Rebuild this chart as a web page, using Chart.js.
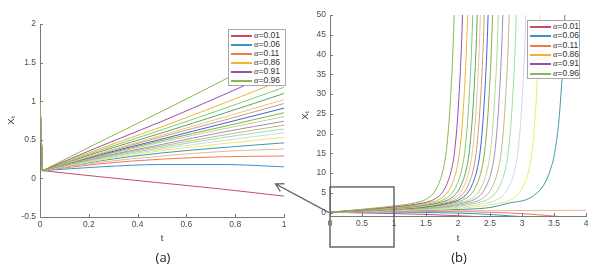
<!DOCTYPE html>
<html>
<head>
<meta charset="utf-8">
<script src="https://cdn.jsdelivr.net/npm/chart.js@4.4.1/dist/chart.umd.min.js"></script>
<style>
  body { margin: 0; background: #fff; width: 609px; height: 274px; overflow: hidden; position: relative; font-family: "Liberation Sans", Arial, sans-serif; }
  canvas { position: absolute; top: 0; }
  #chartA { left: 0; }
  #chartB { left: 300px; }
  #overlay { left: 0; pointer-events: none; }
  .panel { position: absolute; top: 248px; font-size: 13px; color: #222; font-family: "Open Sans", "Liberation Sans", sans-serif; transform: translateX(-50%); }
  .legend { position: absolute; background: #fff; border: 1px solid #a8a8a8; box-sizing: border-box; }
  .row { position: absolute; left: 2px; height: 9px; line-height: 9px; font-size: 8.5px; color: #333; white-space: nowrap; }
  .row .ln { display: inline-block; width: 21px; height: 1px; border-top: 0.5px solid transparent; vertical-align: middle; margin-right: 2px; }
  .row i { font-family: "Liberation Serif", "DejaVu Serif", serif; }
</style>
</head>
<body>
<canvas id="chartA" width="300" height="274"></canvas>
<canvas id="chartB" width="309" height="274"></canvas>
<canvas id="overlay" width="609" height="274"></canvas>
<div class="panel" style="left:163px">(a)</div>
<div class="panel" style="left:459px">(b)</div>

<script>
// fractional orders, one curve each
const alphas = [0.01, 0.06, 0.11, 0.16, 0.21, 0.26, 0.31, 0.36, 0.41, 0.46,
                0.51, 0.56, 0.61, 0.66, 0.71, 0.76, 0.81, 0.86, 0.91, 0.96];
const colors = ["#c94a6a", "#3d8fd6", "#ee7a52", "#e6b89a", "#3f9aa6", "#eeea6a", "#cfd8e6", "#98e0a0", "#c0b888", "#a888c0",
                "#b0dc8a", "#98a840", "#3a62dc", "#c8a070", "#f0c090", "#58a858", "#80c878", "#f2b430", "#9a4cb0", "#88b850"];
const legendIdx = [0, 1, 2, 17, 18, 19];

// panel (a): initial jump X_0 = 1 -> 0.1, then t in [0.01, 1]
const spikeT = [0, 0.01];
const spikeX = [1, 0.1];
const tA = [0.01, 0.25, 0.5, 0.75, 1];
const xA = [
  [0.1, 0.02, -0.06, -0.14, -0.23],
  [0.1, 0.15, 0.18, 0.18, 0.15],
  [0.1, 0.19, 0.25, 0.28, 0.29],
  [0.1, 0.21, 0.29, 0.35, 0.38],
  [0.1, 0.23, 0.33, 0.40, 0.46],
  [0.1, 0.24, 0.36, 0.45, 0.53],
  [0.1, 0.25, 0.38, 0.49, 0.59],
  [0.1, 0.26, 0.40, 0.53, 0.64],
  [0.1, 0.27, 0.42, 0.56, 0.69],
  [0.1, 0.28, 0.44, 0.60, 0.74],
  [0.1, 0.29, 0.47, 0.64, 0.80],
  [0.1, 0.30, 0.49, 0.67, 0.85],
  [0.1, 0.31, 0.51, 0.71, 0.91],
  [0.1, 0.32, 0.54, 0.75, 0.97],
  [0.1, 0.33, 0.56, 0.79, 1.02],
  [0.1, 0.35, 0.59, 0.84, 1.10],
  [0.1, 0.37, 0.63, 0.90, 1.18],
  [0.1, 0.39, 0.67, 0.97, 1.28],
  [0.1, 0.42, 0.74, 1.08, 1.43],
  [0.1, 0.48, 0.87, 1.27, 1.69],
];

// panel (b): [t, X_t] pairs, t in [0, 4]
const ptsB = [
  [[0, 0.1], [1, -0.23], [1.5, -0.45], [2, -0.78], [2.3, -1.0]],
  [[0, 0.1], [0.5, 0.18], [1, 0.15], [1.5, 0.05], [2, -0.12], [2.5, -0.45], [2.85, -0.85], [3, -1.0]],
  [[0, 0.1], [1, 0.29], [1.5, 0.3], [2, 0.25], [2.5, 0.1], [3, -0.25], [3.45, -0.8], [3.6, -1.0]],
  [[0, 0.1], [1, 0.38], [2, 0.48], [3, 0.53], [4, 0.6]],
  [[0, 0.1], [1, 0.46], [2, 0.8], [2.5, 1.3], [2.82, 2.5], [3.07, 3.3], [3.22, 4.8], [3.34, 7], [3.44, 10.7], [3.52, 16], [3.6, 28], [3.67, 50], [3.71, 80]],
  [[0, 0.1], [1, 0.53], [1.8, 0.9], [2.3, 1.5], [2.68, 2.5], [2.83, 3.3], [2.95, 4.8], [3.03, 7], [3.11, 11], [3.16, 16], [3.22, 28], [3.28, 50], [3.32, 80]],
  [[0, 0.1], [1, 0.59], [1.7, 0.95], [2.1, 1.5], [2.46, 2.5], [2.61, 3.3], [2.73, 4.8], [2.81, 7], [2.89, 11], [2.94, 16], [3.0, 28], [3.06, 50], [3.1, 80]],
  [[0, 0.1], [1, 0.64], [1.6, 1.0], [2.0, 1.6], [2.31, 2.5], [2.46, 3.3], [2.58, 4.8], [2.66, 7], [2.74, 11], [2.79, 16], [2.85, 28], [2.91, 50], [2.95, 80]],
  [[0, 0.1], [1, 0.69], [1.6, 1.1], [1.95, 1.7], [2.2, 2.5], [2.35, 3.3], [2.47, 4.8], [2.55, 7], [2.63, 11], [2.68, 16], [2.74, 28], [2.80, 50], [2.84, 80]],
  [[0, 0.1], [1, 0.74], [1.55, 1.2], [1.85, 1.7], [2.1, 2.5], [2.25, 3.3], [2.37, 4.8], [2.45, 7], [2.53, 11], [2.58, 16], [2.64, 28], [2.70, 50], [2.74, 80]],
  [[0, 0.1], [1, 0.80], [1.5, 1.25], [1.8, 1.75], [2.03, 2.5], [2.18, 3.3], [2.3, 4.8], [2.38, 7], [2.46, 11], [2.51, 16], [2.57, 28], [2.63, 50], [2.67, 80]],
  [[0, 0.1], [1, 0.85], [1.5, 1.35], [1.94, 2.5], [2.09, 3.3], [2.21, 4.8], [2.29, 7], [2.37, 11], [2.42, 16], [2.48, 28], [2.54, 50], [2.58, 80]],
  [[0, 0.1], [1, 0.91], [1.45, 1.4], [1.87, 2.5], [2.02, 3.3], [2.14, 4.8], [2.22, 7], [2.30, 11], [2.35, 16], [2.41, 28], [2.47, 50], [2.51, 80]],
  [[0, 0.1], [1, 0.97], [1.4, 1.45], [1.81, 2.5], [1.96, 3.3], [2.08, 4.8], [2.16, 7], [2.24, 11], [2.29, 16], [2.35, 28], [2.41, 50], [2.45, 80]],
  [[0, 0.1], [1, 1.02], [1.4, 1.5], [1.75, 2.5], [1.90, 3.3], [2.02, 4.8], [2.10, 7], [2.18, 11], [2.23, 16], [2.29, 28], [2.35, 50], [2.39, 80]],
  [[0, 0.1], [1, 1.10], [1.35, 1.6], [1.70, 2.5], [1.85, 3.3], [1.97, 4.8], [2.05, 7], [2.13, 11], [2.18, 16], [2.24, 28], [2.30, 50], [2.34, 80]],
  [[0, 0.1], [1, 1.18], [1.3, 1.65], [1.63, 2.5], [1.78, 3.3], [1.90, 4.8], [1.98, 7], [2.06, 11], [2.11, 16], [2.17, 28], [2.23, 50], [2.27, 80]],
  [[0, 0.1], [1, 1.28], [1.25, 1.7], [1.55, 2.5], [1.70, 3.3], [1.82, 4.8], [1.90, 7], [1.98, 11], [2.03, 16], [2.09, 28], [2.15, 50], [2.19, 80]],
  [[0, 0.1], [1, 1.43], [1.2, 1.8], [1.47, 2.5], [1.62, 3.3], [1.74, 4.8], [1.82, 7], [1.90, 11], [1.95, 16], [2.01, 28], [2.07, 50], [2.11, 80]],
  [[0, 0.1], [1, 1.69], [1.34, 2.5], [1.49, 3.3], [1.61, 4.8], [1.69, 7], [1.77, 11], [1.82, 16], [1.88, 28], [1.94, 50], [1.98, 80]],
];

const xTicksA = [0, 0.2, 0.4, 0.6, 0.8, 1];
const yTicksA = [-0.5, 0, 0.5, 1, 1.5, 2];
const xTicksB = [0, 0.5, 1, 1.5, 2, 2.5, 3, 3.5, 4];
const yTicksB = [0, 5, 10, 15, 20, 25, 30, 35, 40, 45, 50];

const axisColor = "#7a7a7a";
const tickColor = "#4d4d4d";

// MATLAB-style inward tick marks
const inwardTicks = {
  id: "inwardTicks",
  afterDraw(chart) {
    const { ctx, scales: { x, y } } = chart;
    ctx.save();
    ctx.strokeStyle = axisColor;
    ctx.lineWidth = 1;
    ctx.beginPath();
    x.ticks.forEach(t => {
      const px = Math.round(x.getPixelForValue(t.value)) + 0.5;
      ctx.moveTo(px, y.bottom);
      ctx.lineTo(px, y.bottom - 3);
    });
    y.ticks.forEach(t => {
      const py = Math.round(y.getPixelForValue(t.value)) + 0.5;
      ctx.moveTo(x.left, py);
      ctx.lineTo(x.left + 3, py);
    });
    ctx.stroke();
    ctx.restore();
  },
};

function makeChart(canvas, datasets, o) {
  return new Chart(canvas.getContext("2d"), {
    type: "line",
    data: { datasets },
    options: {
      responsive: false,
      animation: false,
      events: [],
      layout: { padding: o.padding },
      elements: { point: { radius: 0 }, line: { borderWidth: 1, cubicInterpolationMode: "monotone" } },
      plugins: { legend: { display: false }, tooltip: { enabled: false } },
      scales: {
        x: {
          type: "linear",
          min: o.xMin, max: o.xMax,
          afterBuildTicks: s => { s.ticks = o.xTicks.map(v => ({ value: v })); },
          afterFit: s => { s.height = o.xHeight; },
          grid: { display: false, drawTicks: false },
          border: { display: true, color: axisColor, width: 1 },
          ticks: { color: tickColor, padding: 3, maxRotation: 0, font: { size: 8.5, family: "Liberation Sans" }, callback: v => String(v) },
          title: { display: true, text: "t", color: "#333", font: { size: 9.5, family: "Liberation Sans" }, padding: { top: 0, bottom: o.xTitlePad } },
        },
        y: {
          type: "linear",
          min: o.yMin, max: o.yMax,
          afterBuildTicks: s => { s.ticks = o.yTicks.map(v => ({ value: v })); },
          afterFit: s => { s.width = o.yWidth; },
          grid: { display: false, drawTicks: false },
          border: { display: true, color: axisColor, width: 1 },
          ticks: { color: tickColor, padding: 4, font: { size: 8.5, family: "Liberation Sans" }, callback: v => String(v) },
          title: { display: true, text: "X\u209C", color: "#333", font: { size: 9.5, family: "Liberation Sans" }, padding: { top: o.yTitlePad, bottom: 0 } },
        },
      },
    },
    plugins: [inwardTicks],
  });
}

const dsA = [];
alphas.forEach((a, i) => {
  dsA.push({
    label: "\u03B1=" + a,
    data: tA.map((t, j) => ({ x: t, y: xA[i][j] })),
    borderColor: colors[i],
    order: 2 * (alphas.length - i),
  });
  // the jump from the initial value, drawn straight
  dsA.push({
    label: "\u03B1=" + a + " start",
    data: spikeT.map((t, j) => ({ x: t, y: spikeX[j] })),
    borderColor: colors[i],
    cubicInterpolationMode: "default",
    tension: 0,
    order: 2 * (alphas.length - i) + 1,
  });
});
const dsB = alphas.map((a, i) => ({
  label: "\u03B1=" + a,
  data: ptsB[i].map(p => ({ x: p[0], y: p[1] })),
  borderColor: colors[i],
  order: alphas.length - i,
}));

const chartA = makeChart(document.getElementById("chartA"), dsA, {
  padding: { left: 0, top: 24, right: 16, bottom: 0 },
  xMin: 0, xMax: 1, yMin: -0.5, yMax: 2,
  xTicks: xTicksA, yTicks: yTicksA,
  yWidth: 40, xHeight: 57, xTitlePad: 30, yTitlePad: 6,
});
const chartB = makeChart(document.getElementById("chartB"), dsB, {
  padding: { left: 0, top: 15, right: 23, bottom: 0 },
  xMin: 0, xMax: 4, yMin: -0.85, yMax: 50,
  xTicks: xTicksB, yTicks: yTicksB,
  yWidth: 30, xHeight: 58, xTitlePad: 30, yTitlePad: 0,
});

// legends (first three and last three orders, as in the figure)
function buildLegend(left, top, width, height, rowTop, rowStep) {
  const box = document.createElement("div");
  box.className = "legend";
  Object.assign(box.style, { left: left + "px", top: top + "px", width: width + "px", height: height + "px" });
  legendIdx.forEach((idx, k) => {
    const row = document.createElement("div");
    row.className = "row";
    row.style.top = Math.round(rowTop + k * rowStep) + "px";
    const ln = document.createElement("span");
    ln.className = "ln";
    ln.style.background = colors[idx];
    const txt = document.createElement("span");
    txt.innerHTML = "<i>\u03B1</i>=" + alphas[idx].toFixed(2);
    row.appendChild(ln);
    row.appendChild(txt);
    box.appendChild(row);
  });
  document.body.appendChild(box);
}
buildLegend(228, 29, 58, 57, 1, 9);
buildLegend(527, 20, 53, 59, 1, 9.3);

// zoom box on (b) and arrow pointing back to (a)
(function drawOverlay() {
  const ctx = document.getElementById("overlay").getContext("2d");
  const xa = chartA.scales.x, ya = chartA.scales.y;
  const xb = chartB.scales.x, yb = chartB.scales.y;
  const offB = 300;
  const bl = offB + xb.getPixelForValue(0), br = offB + xb.getPixelForValue(1);
  const bt = yb.getPixelForValue(6.5), bb = yb.bottom + 31;
  ctx.strokeStyle = "#5f5f5f";
  ctx.lineWidth = 1.4;
  ctx.strokeRect(bl, bt, br - bl, bb - bt);

  const sx = bl - 1, sy = yb.getPixelForValue(0);
  const ex = xa.getPixelForValue(0.965), ey = ya.getPixelForValue(-0.07);
  ctx.strokeStyle = "#6c6c6c";
  ctx.lineWidth = 1.3;
  ctx.beginPath();
  ctx.moveTo(sx, sy);
  ctx.lineTo(ex, ey);
  const ang = Math.atan2(sy - ey, sx - ex);
  const head = 9;
  ctx.moveTo(ex + head * Math.cos(ang - 0.5), ey + head * Math.sin(ang - 0.5));
  ctx.lineTo(ex, ey);
  ctx.lineTo(ex + head * Math.cos(ang + 0.5), ey + head * Math.sin(ang + 0.5));
  ctx.stroke();
})();
</script>
</body>
</html>
